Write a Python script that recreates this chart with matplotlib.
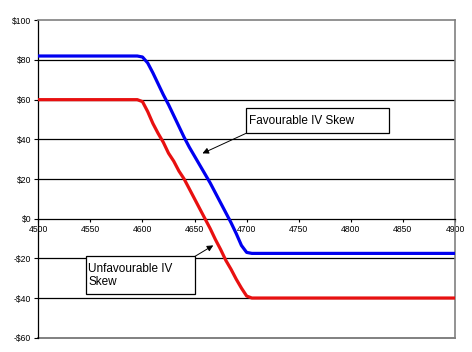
import matplotlib
matplotlib.use("Agg")
import matplotlib.pyplot as plt
from matplotlib.patches import Rectangle

# Data
strikes = [4500, 4595, 4600, 4605, 4610, 4615, 4620, 4625, 4630, 4635, 4640, 4645,
           4650, 4655, 4660, 4665, 4670, 4675, 4680, 4685, 4690, 4695, 4700, 4705, 4900]
favourable = [82, 82, 81.5, 78.5, 73.5, 68, 62.5, 57.5, 52, 46.5, 41, 36,
              31.5, 27, 22.5, 18, 13, 8, 3, -2, -7.5, -13.5, -17, -17.5, -17.5]
unfavourable = [60, 60, 59, 54, 48, 43, 38.5, 33, 29, 24, 20, 15,
                10, 5, 0, -5, -10.5, -15.5, -21, -25.5, -30.5, -35, -39, -40, -40]
xticks = [4500, 4550, 4600, 4650, 4700, 4750, 4800, 4850, 4900]
yticks = [-60, -40, -20, 0, 20, 40, 60, 80, 100]
ytick_labels = ["-$60", "-$40", "-$20", "$0", "$20", "$40", "$60", "$80", "$100"]

plt.rcParams['font.family'] = ['Liberation Sans', 'DejaVu Sans']

fig = plt.figure(figsize=(4.72, 3.52), dpi=100)
ax = fig.add_axes([38.3/472, 1-337.7/352, (455-38.3)/472, (337.7-20.3)/352])
ax.set_xlim(4500, 4900)
ax.set_ylim(-60, 100)

for v in [-40, -20, 20, 40, 60, 80]:
    ax.axhline(v, color='black', lw=0.9, zorder=1)

ax.plot(strikes, favourable, color='#0000F0', lw=2.3, zorder=3, solid_joinstyle='round')
ax.plot(strikes, unfavourable, color='#E81010', lw=2.3, zorder=3, solid_joinstyle='round')

gray = '#808080'
ax.spines['left'].set_color('black')
ax.spines['left'].set_linewidth(0.9)
ax.spines['bottom'].set_position(('data', 0))
ax.spines['bottom'].set_color('black')
ax.spines['bottom'].set_linewidth(0.9)
ax.spines['top'].set_color(gray)
ax.spines['right'].set_color(gray)
ax.spines['top'].set_linewidth(1.2)
ax.spines['right'].set_linewidth(1.2)
ax.axhline(-60, color=gray, lw=1.4, clip_on=False, zorder=0)

ax.set_xticks(xticks)
ax.set_xticklabels([str(t) for t in xticks])
ax.set_yticks(yticks)
ax.set_yticklabels(ytick_labels)
ax.tick_params(axis='x', direction='out', length=2.5, width=0.8, labelsize=6.2, pad=2)
ax.tick_params(axis='y', direction='out', length=3, width=0.8, labelsize=6.2, pad=2)

def px2d(px, py):
    return 4500 + (px - 38.3) / 1.042, (219.3 - py) / 1.984

# Favourable box
x0, y0 = px2d(245.7, 133.7)
x1, y1 = px2d(389, 109)
ax.add_patch(Rectangle((x0, y0), x1 - x0, y1 - y0, facecolor='white', edgecolor='black',
                       lw=0.9, zorder=5))
tx, ty = px2d(249, 121.5)
ax.text(tx, ty, "Favourable IV Skew", fontsize=8.5, va='center', ha='left', zorder=6)
sx, sy = px2d(246, 134)
ex, ey = px2d(202.5, 154)
ax.annotate("", xy=(ex, ey), xytext=(sx, sy),
            arrowprops=dict(arrowstyle='-|>', mutation_scale=9, lw=0.7, color='black',
                            shrinkA=0, shrinkB=0), zorder=6)

# Unfavourable box
x0, y0 = px2d(86, 295)
x1, y1 = px2d(195, 257)
ax.add_patch(Rectangle((x0, y0), x1 - x0, y1 - y0, facecolor='white', edgecolor='black',
                       lw=0.9, zorder=5))
tx, ty = px2d(88.5, 276)
ax.text(tx, ty, "Unfavourable IV\nSkew", fontsize=8.5, va='center', ha='left',
        linespacing=1.15, zorder=6)
sx, sy = px2d(195, 257)
ex, ey = px2d(213.3, 246)
ax.annotate("", xy=(ex, ey), xytext=(sx, sy),
            arrowprops=dict(arrowstyle='-|>', mutation_scale=9, lw=0.7, color='black',
                            shrinkA=0, shrinkB=0), zorder=6)

fig.savefig("out.png", dpi=100)
